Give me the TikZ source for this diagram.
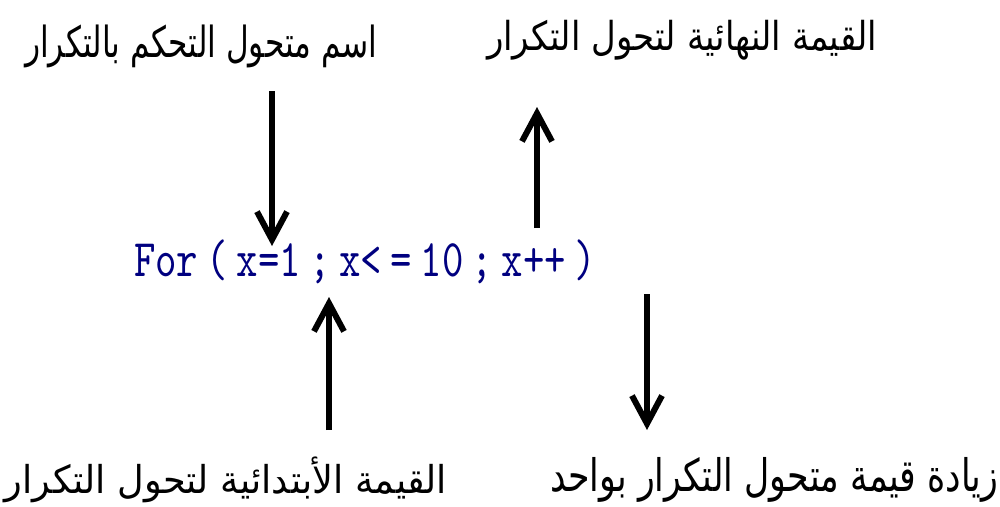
\documentclass[tikz,border=0pt]{standalone}
\usepackage{graphicx}
\usepackage{fontspec}
\usetikzlibrary{arrows.meta}
\TeXXeTstate=1
\newfontfamily\arabicfont[Script=Arabic]{DejaVu Sans}
\newfontfamily\codefont[Extension=.otf, WordSpace=0.4]{lmmono10-regular}
\definecolor{codeblue}{RGB}{0,0,128}
\tikzset{
  lbl/.style={inner sep=0pt, outer sep=0pt, anchor=north west},
  arr/.style={line width=6pt, -{Straight Barb[length=28pt,width=30pt]}},
}
\begin{document}
\begin{tikzpicture}[x=1pt,y=-1pt]
\useasboundingbox[fill=white] (0,0) rectangle (1000,506);
% labels
\node[lbl] (tl) at (25,25) {\resizebox*{352pt}{43pt}{\arabicfont\beginR اسم متحول التحكم بالتكرار\endR}};
\node[lbl] (tr) at (487,20) {\resizebox*{390pt}{40pt}{\arabicfont\beginR القيمة النهائية لتحول التكرار\endR}};
\node[lbl] (bl) at (5,457) {\resizebox*{442pt}{46pt}{\arabicfont\beginR القيمة الأبتدائية لتحول التكرار\endR}};
\node[lbl] (br) at (550,457) {\resizebox*{448pt}{45pt}{\arabicfont\beginR زيادة قيمة متحول التكرار بواحد\endR}};
% code
\node[lbl, text=codeblue] (code) at (134,240) {\resizebox*{462pt}{44pt}{\codefont For ( x=1 ; x< = 10 ; x++ )}};
% arrow end points
\coordinate (a1s) at (272,91);  \coordinate (a1e) at (272,246);
\coordinate (a2s) at (537,228); \coordinate (a2e) at (537,107);
\coordinate (a3s) at (329,430); \coordinate (a3e) at (329,297);
\coordinate (a4s) at (647,294); \coordinate (a4e) at (647,430);
\draw[arr] (a1s) -- (a1e);
\draw[arr] (a2s) -- (a2e);
\draw[arr] (a3s) -- (a3e);
\draw[arr] (a4s) -- (a4e);
\end{tikzpicture}
\end{document}
